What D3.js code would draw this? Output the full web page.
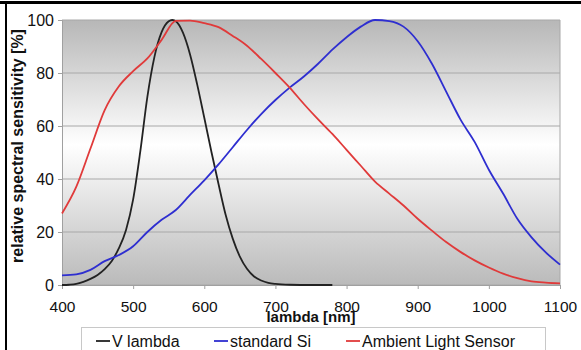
<!DOCTYPE html>
<html>
<head>
<meta charset="utf-8">
<script src="https://cdn.jsdelivr.net/npm/d3@7"></script>
<style>
	body { margin: 0; background: #fff; }
	svg { display: block; font-family: 'Liberation Sans', Arial, sans-serif; }
</style>
</head>
<body>
<div id="chart"></div>
<script>
// wavelengths [nm] and relative sensitivities [%]
const v_lambda_nm = [400, 410, 420, 430, 440, 450, 460, 470, 480, 490, 500, 510, 520, 530, 540, 550, 555, 560, 570, 580, 590, 600, 610, 620, 630, 640, 650, 660, 670, 680, 690, 700, 720, 750, 780]
const v_lambda_val = [0, 0.1, 0.4, 1.2, 2.3, 3.8, 6, 9.1, 13.9, 20.8, 32.3, 50.3, 71, 86.2, 95.4, 99.5, 100, 99.5, 95.2, 87, 75.7, 63.1, 50.3, 38.1, 26.5, 17.5, 10.7, 6.1, 3.2, 1.7, 0.8, 0.4, 0.1, 0, 0]

const si_nm = [400, 420, 440, 460, 480, 500, 520, 540, 560, 580, 600, 620, 640, 660, 680, 700, 720, 740, 760, 780, 800, 820, 840, 860, 880, 900, 920, 940, 960, 980, 1000, 1020, 1040, 1060, 1080, 1100]
const si_val = [3.6, 4, 5.7, 9, 11.3, 14.6, 20, 24.6, 28.3, 34, 39.5, 45.5, 52, 58.5, 64.5, 69.8, 74.5, 78.7, 83.5, 88.8, 93.5, 97.5, 100, 99.6, 97.5, 92, 83.5, 73, 62.5, 54, 43.5, 34.5, 25, 18, 12.3, 7.7]

const als_nm = [400, 420, 440, 460, 480, 500, 520, 540, 560, 580, 600, 620, 640, 660, 680, 700, 720, 740, 760, 780, 800, 820, 840, 860, 880, 900, 920, 940, 960, 980, 1000, 1020, 1040, 1060, 1080, 1100]
const als_val = [27, 37, 51.5, 66, 75, 80.7, 85.5, 92.5, 99.7, 99.8, 98.8, 97.3, 94, 90.3, 85.3, 80, 74.5, 68.3, 62.5, 57, 51, 45, 39, 34.5, 30, 25, 20.5, 16.2, 12.5, 9.3, 6.6, 4.3, 2.6, 1.4, 0.9, 0.6]

const series_names = ['V lambda', 'standard Si', 'Ambient Light Sensor']
const series_colors = ['#222222', '#2e2ed0', '#e03a3a']
const x_ticks = [400, 500, 600, 700, 800, 900, 1000, 1100]
const y_ticks = [0, 20, 40, 60, 80, 100]

const width = 581
const height = 350
const margin = { left: 62, right: 21, top: 20, bottom: 65 }

var svg = d3.select('#chart')
	.append('svg')
	.attr('width', width)
	.attr('height', height)

var x = d3.scaleLinear().domain([400, 1100]).range([margin.left, width - margin.right])
var y = d3.scaleLinear().domain([0, 100]).range([height - margin.bottom, margin.top])

// background gradient
var grad = svg.append('defs').append('linearGradient')
	.attr('id', 'bg').attr('x1', 0).attr('y1', 0).attr('x2', 0).attr('y2', 1)
grad.append('stop').attr('offset', '0%').attr('stop-color', '#b7b7b7')
grad.append('stop').attr('offset', '47%').attr('stop-color', '#ffffff')
grad.append('stop').attr('offset', '100%').attr('stop-color', '#bababa')

svg.append('rect')
	.attr('x', x(400)).attr('y', y(100))
	.attr('width', x(1100) - x(400)).attr('height', y(0) - y(100))
	.attr('fill', 'url(#bg)')

// gridlines
svg.append('g')
	.selectAll('line')
	.data(y_ticks)
	.enter()
	.append('line')
	.attr('x1', x(400)).attr('x2', x(1100))
	.attr('y1', d => y(d)).attr('y2', d => y(d))
	.attr('stroke', '#a8a8a8')
	.attr('stroke-width', 1)

// axes
var xAxis = svg.append('g')
	.attr('transform', 'translate(0,' + y(0) + ')')
	.call(d3.axisBottom(x).tickValues(x_ticks).tickFormat(d3.format('d')).tickSize(4).tickPadding(12))
var yAxis = svg.append('g')
	.attr('transform', 'translate(' + x(400) + ',0)')
	.call(d3.axisLeft(y).tickValues(y_ticks).tickFormat(d3.format('d')).tickSize(4).tickPadding(4))
xAxis.selectAll('line, path').attr('stroke', '#a0a0a0')
yAxis.selectAll('line, path').attr('stroke', '#a0a0a0')
xAxis.selectAll('text').style('font-size', '15.5px').attr('fill', '#111')
yAxis.selectAll('text').style('font-size', '16px').attr('fill', '#111')

// right edge
svg.append('line')
	.attr('x1', x(1100)).attr('x2', x(1100))
	.attr('y1', y(100)).attr('y2', y(0))
	.attr('stroke', '#a8a8a8')

// curves
var line = d3.line()
	.x(d => x(d[0]))
	.y(d => y(d[1]))
	.curve(d3.curveMonotoneX)

var series = [
	d3.zip(v_lambda_nm, v_lambda_val),
	d3.zip(si_nm, si_val),
	d3.zip(als_nm, als_val)
]

svg.append('g')
	.selectAll('path')
	.data(series)
	.enter()
	.append('path')
	.attr('d', line)
	.attr('fill', 'none')
	.attr('stroke', (d, i) => series_colors[i])
	.attr('stroke-width', 1.8)

// axis titles
svg.append('text')
	.attr('x', (x(400) + x(1100)) / 2)
	.attr('y', 322)
	.attr('text-anchor', 'middle')
	.style('font-size', '15px')
	.style('font-weight', 'bold')
	.attr('fill', '#111')
	.text('lambda [nm]')

svg.append('text')
	.attr('transform', 'translate(23,146) rotate(-90)')
	.attr('text-anchor', 'middle')
	.style('font-size', '16px')
	.style('font-weight', 'bold')
	.attr('fill', '#111')
	.text('relative spectral sensitivity [%]')

// legend
svg.append('rect')
	.attr('x', 81.5).attr('y', 327.5)
	.attr('width', 464).attr('height', 30)
	.attr('fill', '#fff')
	.attr('stroke', '#c8c8c8')

var legend_x = [96, 214, 346]
var legend = svg.append('g')
	.selectAll('g')
	.data(series_names)
	.enter()
	.append('g')
	.attr('transform', (d, i) => 'translate(' + legend_x[i] + ',341)')
legend.append('line')
	.attr('x1', 0).attr('x2', 14)
	.attr('y1', 0).attr('y2', 0)
	.attr('stroke', (d, i) => series_colors[i])
	.attr('stroke-width', 1.8)
legend.append('text')
	.attr('x', 16)
	.attr('y', 5.5)
	.style('font-size', '16px')
	.attr('fill', '#111')
	.text(d => d)

// outer frame (top and left edges visible)
svg.append('line')
	.attr('x1', 0).attr('x2', width).attr('y1', 2.5).attr('y2', 2.5)
	.attr('stroke', '#000').attr('stroke-width', 3)
svg.append('line')
	.attr('x1', 6).attr('x2', 6).attr('y1', 1).attr('y2', height)
	.attr('stroke', '#000').attr('stroke-width', 2)
</script>
</body>
</html>
